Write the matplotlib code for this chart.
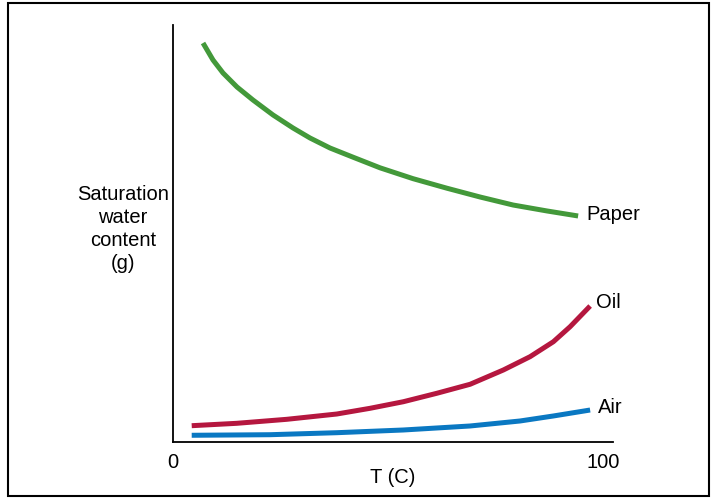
import matplotlib
matplotlib.use("Agg")
import matplotlib.pyplot as plt
from matplotlib.patches import Rectangle

plt.rcParams['font.family'] = ['Liberation Sans', 'DejaVu Sans']

paper_x = [6.98, 9.30, 11.63, 14.88, 18.60, 23.26, 27.91, 31.86, 36.51, 41.86,
           48.14, 55.81, 63.72, 71.40, 79.07, 86.98, 94.19]
paper_y = [95.68, 91.61, 88.49, 85.13, 82.01, 78.42, 75.30, 72.90, 70.50, 68.30,
           65.75, 63.15, 60.85, 58.75, 56.83, 55.40, 54.20]

oil_x = [4.35, 14.81, 26.44, 38.07, 45.81, 53.56, 61.33, 69.07, 76.81, 83.02,
         88.44, 92.33, 96.98]
oil_y = [3.91, 4.48, 5.44, 6.71, 8.08, 9.66, 11.68, 13.84, 17.27, 20.46,
         24.05, 27.65, 32.61]

air_x = [4.35, 22.56, 38.07, 53.56, 69.07, 80.70, 88.44, 96.98]
air_y = [1.61, 1.75, 2.23, 2.88, 3.84, 5.04, 6.24, 7.67]

series_labels = ["Paper", "Oil", "Air"]
x_ticks = [0, 100]
x_tick_labels = ["0", "100"]

fig = plt.figure(figsize=(7.13, 4.98), dpi=100)
ax = fig.add_axes([173/713, 1-442/498, (613-173)/713, (442-25)/498])

lw = 3.6
ax.plot(paper_x, paper_y, color="#43993A", lw=lw, solid_capstyle="butt", solid_joinstyle="round")
ax.plot(oil_x, oil_y, color="#B5173F", lw=lw, solid_capstyle="butt", solid_joinstyle="round")
ax.plot(air_x, air_y, color="#0A78C2", lw=lw, solid_capstyle="butt", solid_joinstyle="round")

fs = 14.5
ax.text(paper_x[-1] + 2.0, paper_y[-1] + 0.3, series_labels[0], fontsize=fs, va="center", ha="left")
ax.text(oil_x[-1] + 1.3, oil_y[-1] + 0.8, series_labels[1], fontsize=fs, va="center", ha="left")
ax.text(air_x[-1] + 1.9, air_y[-1] + 0.5, series_labels[2], fontsize=fs, va="center", ha="left")

ax.set_xlim(0, 102.3)
ax.set_ylim(0, 100)
ax.set_xticks(x_ticks)
ax.set_xticklabels(x_tick_labels, fontsize=fs)
ax.tick_params(axis="x", length=0, pad=8)
ax.set_yticks([])
for s in ["top", "right"]:
    ax.spines[s].set_visible(False)
for s in ["left", "bottom"]:
    ax.spines[s].set_linewidth(1.3)
ax.set_xlabel("T (C)", fontsize=fs, labelpad=-3)

fig.text(123/713, 1-229/498, "Saturation\nwater\ncontent\n(g)", fontsize=fs,
         ha="center", va="center", linespacing=1.25)

fig.patches.append(Rectangle((8/713, 2/498), (709-8)/713, (495-2)/498,
                             transform=fig.transFigure, fill=False,
                             edgecolor="black", lw=1.5))

fig.savefig("out.png", dpi=100)
